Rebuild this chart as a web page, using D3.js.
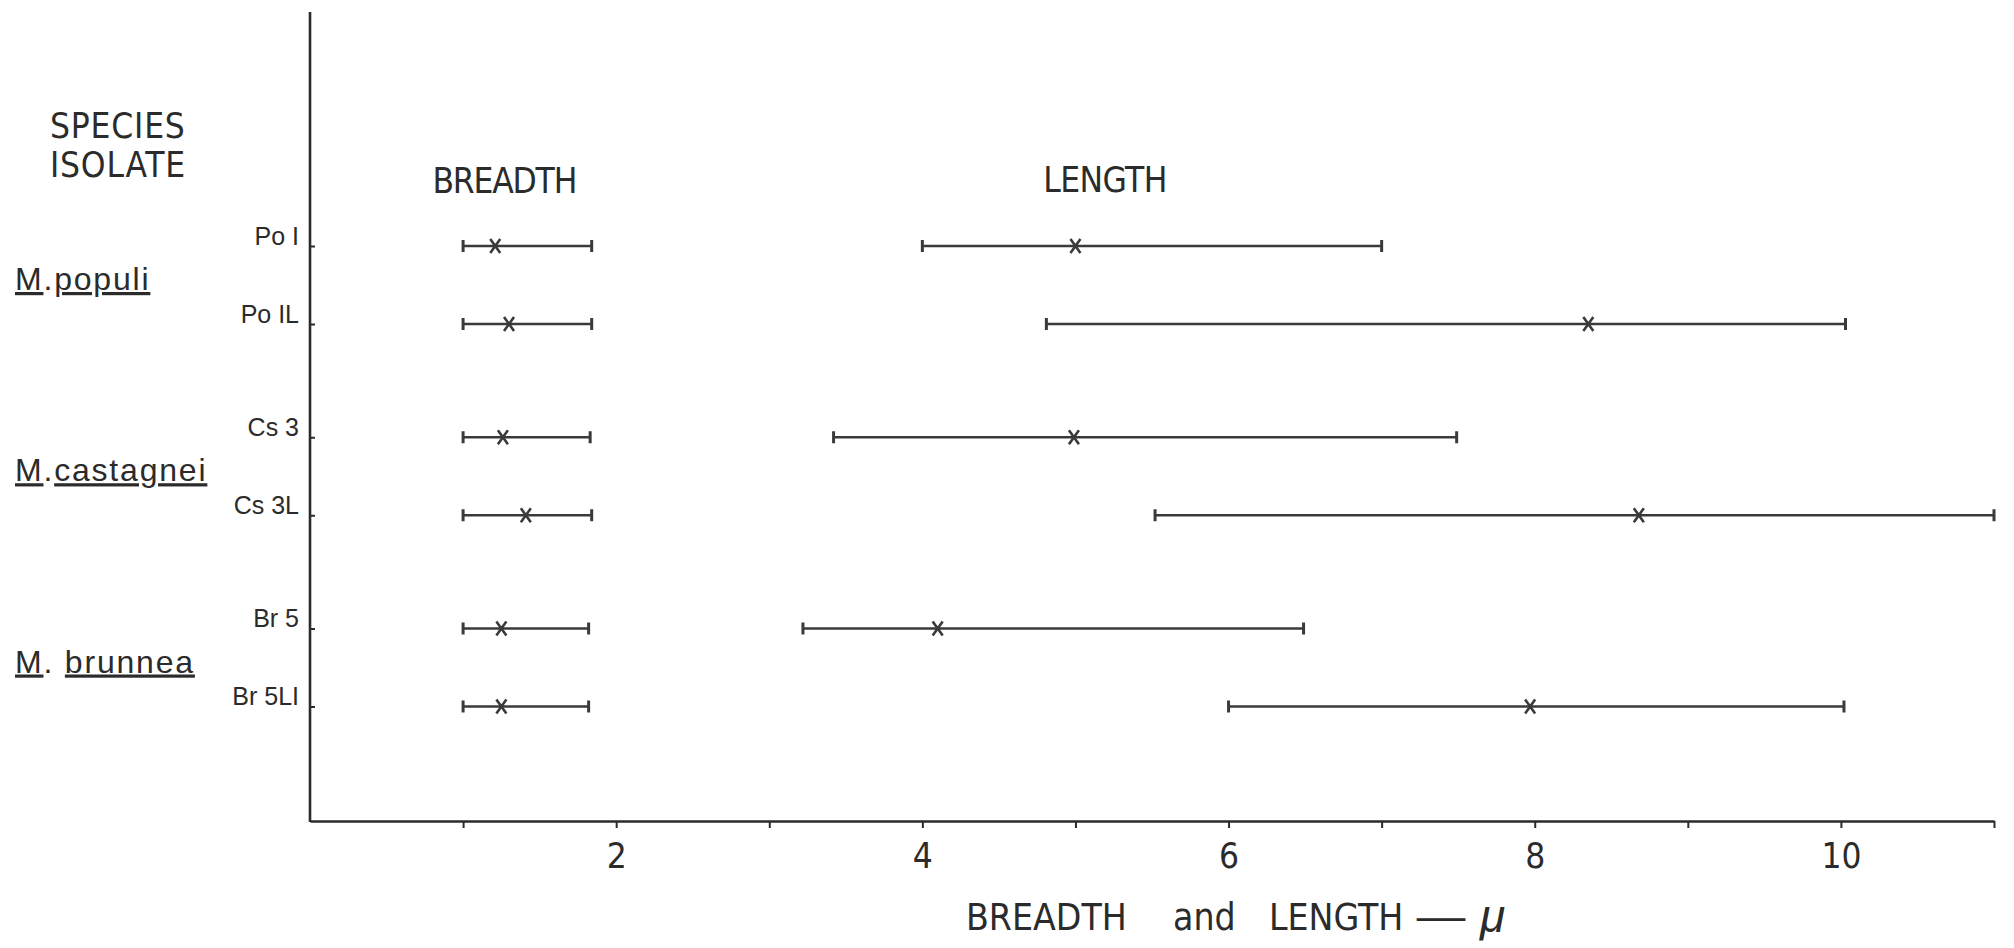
<!DOCTYPE html>
<html>
<head>
<meta charset="utf-8">
<script src="https://cdn.jsdelivr.net/npm/d3@7"></script>
<style>
  html, body { margin: 0; padding: 0; background: #fff; }
  svg { display: block; }
  .narrow { font-family: "Liberation Sans Narrow", "DejaVu Sans Condensed", sans-serif; }
  .reg { font-family: "Liberation Sans", "DejaVu Sans", sans-serif; }
</style>
</head>
<body>
<svg id="chart" width="2014" height="948"></svg>
<script>
// ---- data ----
const species = ["M.populi", "M.castagnei", "M. brunnea"];
const isolates = ["Po I", "Po IL", "Cs 3", "Cs 3L", "Br 5", "Br 5LI"];
const isolateSpecies = ["M.populi", "M.populi", "M.castagnei", "M.castagnei", "M. brunnea", "M. brunnea"];
const breadthMin  = [1.00, 1.00, 1.00, 1.00, 1.00, 1.00];
const breadthMean = [1.21, 1.30, 1.26, 1.41, 1.25, 1.25];
const breadthMax  = [1.84, 1.84, 1.83, 1.84, 1.82, 1.82];
const lengthMin   = [4.00, 4.81, 3.42, 5.52, 3.22, 6.00];
const lengthMean  = [5.00, 8.35, 4.99, 8.68, 4.10, 7.97];
const lengthMax   = [7.00, 10.03, 7.49, 11.00, 6.49, 10.02];
const xTickValues = [1, 2, 3, 4, 5, 6, 7, 8, 9, 10, 11];
const xTickLabels = [2, 4, 6, 8, 10];

// ---- layout ----
const svg = d3.select("#chart");
const ink = "#2b2b2b";
const x = d3.scaleLinear().domain([0, 11]).range([310, 1994]);
const axisY = 821, axisTop = 12;

const ySpecies = d3.scalePoint().domain(species).range([285, 667.5]);
const withinOffset = d3.scalePoint().domain([0, 1]).range([-39, 39]);
const rowPos = isolates.map((iso, i) => {
  const idxInSpecies = isolates.filter((_, j) => isolateSpecies[j] === isolateSpecies[i]).indexOf(iso);
  return ySpecies(isolateSpecies[i]) + withinOffset(idxInSpecies);
});
const yRow = d3.scaleOrdinal().domain(isolates).range(rowPos);

// ---- x axis ----
const gx = svg.append("g")
  .attr("transform", `translate(0,${axisY})`)
  .call(d3.axisBottom(x)
    .tickValues(xTickValues)
    .tickSizeInner(7)
    .tickSizeOuter(0)
    .tickPadding(15)
    .tickFormat(d => xTickLabels.includes(d) ? d : ""));
gx.select(".domain").attr("stroke", ink).attr("stroke-width", 2.6);
gx.selectAll(".tick line").attr("stroke", ink).attr("stroke-width", 2);
gx.selectAll(".tick text")
  .attr("class", "narrow")
  .attr("font-size", 35)
  .attr("fill", ink);

// ---- y axis ----
svg.append("line")
  .attr("x1", x(0)).attr("x2", x(0))
  .attr("y1", axisTop).attr("y2", axisY + 1)
  .attr("stroke", ink).attr("stroke-width", 2.6);

const gy = svg.append("g")
  .attr("transform", `translate(${x(0)},0)`)
  .call(d3.axisLeft(yRow).tickSizeInner(-5).tickSizeOuter(0).tickPadding(11));
gy.select(".domain").remove();
gy.selectAll(".tick line").attr("stroke", ink).attr("stroke-width", 2);
gy.selectAll(".tick text")
  .attr("class", "reg")
  .attr("font-size", 25)
  .attr("dy", "-0.08em")
  .attr("fill", ink);

// ---- species labels ----
svg.append("g").selectAll("text").data(species).join("text")
  .attr("class", "reg")
  .attr("x", 15)
  .attr("y", d => ySpecies(d) + 5)
  .attr("font-size", 32)
  .attr("letter-spacing", 1.8)
  .attr("fill", ink)
  .each(function(d) {
    const t = d3.select(this);
    const parts = d.split(".");
    t.append("tspan").attr("text-decoration", "underline").text(parts[0]);
    t.append("tspan").text("." + (parts[1].startsWith(" ") ? " " : ""));
    t.append("tspan").attr("text-decoration", "underline").text(parts[1].trim());
  });

// ---- headers ----
svg.append("text").attr("class", "narrow").attr("x", 50).attr("y", 138)
  .attr("font-size", 35).attr("letter-spacing", 0.8).attr("fill", ink).text("SPECIES");
svg.append("text").attr("class", "narrow").attr("x", 50).attr("y", 177)
  .attr("font-size", 35).attr("letter-spacing", 0.8).attr("fill", ink).text("ISOLATE");
svg.append("text").attr("class", "narrow").attr("x", x(0.80)).attr("y", 193)
  .attr("font-size", 35).attr("letter-spacing", -1.2).attr("fill", ink).text("BREADTH");
svg.append("text").attr("class", "narrow").attr("x", x(4.79)).attr("y", 192)
  .attr("font-size", 35).attr("letter-spacing", -0.6).attr("fill", ink).text("LENGTH");

// ---- axis title ----
const title = svg.append("text").attr("class", "narrow")
  .attr("y", 930).attr("font-size", 37).attr("fill", ink);
title.append("tspan").attr("x", 966).text("BREADTH");
title.append("tspan").attr("x", 1173).text("and");
title.append("tspan").attr("x", 1269).text("LENGTH");
svg.append("text").attr("class", "narrow")
  .attr("x", 1414).attr("y", 930).attr("font-size", 37).attr("fill", ink)
  .attr("textLength", 54).attr("lengthAdjust", "spacingAndGlyphs").text("—");
svg.append("text").attr("class", "reg")
  .attr("x", 1480).attr("y", 932).attr("font-size", 46).attr("font-style", "italic")
  .attr("fill", ink).text("μ");

// ---- range bars ----
const rows = isolates.map((iso, i) => ({
  iso,
  bars: [
    {min: breadthMin[i], mean: breadthMean[i], max: breadthMax[i]},
    {min: lengthMin[i], mean: lengthMean[i], max: lengthMax[i]}
  ]
}));
const barColor = "#3a3a3a";
const gb = svg.append("g");
rows.forEach(r => {
  const y = yRow(r.iso);
  r.bars.forEach(b => {
    gb.append("line")
      .attr("x1", x(b.min)).attr("x2", x(b.max))
      .attr("y1", y).attr("y2", y)
      .attr("stroke", barColor).attr("stroke-width", 2.6);
    [b.min, b.max].forEach(v => {
      gb.append("line")
        .attr("x1", x(v)).attr("x2", x(v))
        .attr("y1", y - 6).attr("y2", y + 6)
        .attr("stroke", barColor).attr("stroke-width", 3);
    });
    const cx = x(b.mean);
    gb.append("path")
      .attr("d", `M${cx - 5},${y - 7}L${cx + 5},${y + 7}M${cx + 5},${y - 7}L${cx - 5},${y + 7}`)
      .attr("stroke", barColor).attr("stroke-width", 2.6).attr("fill", "none");
  });
});
</script>
</body>
</html>
